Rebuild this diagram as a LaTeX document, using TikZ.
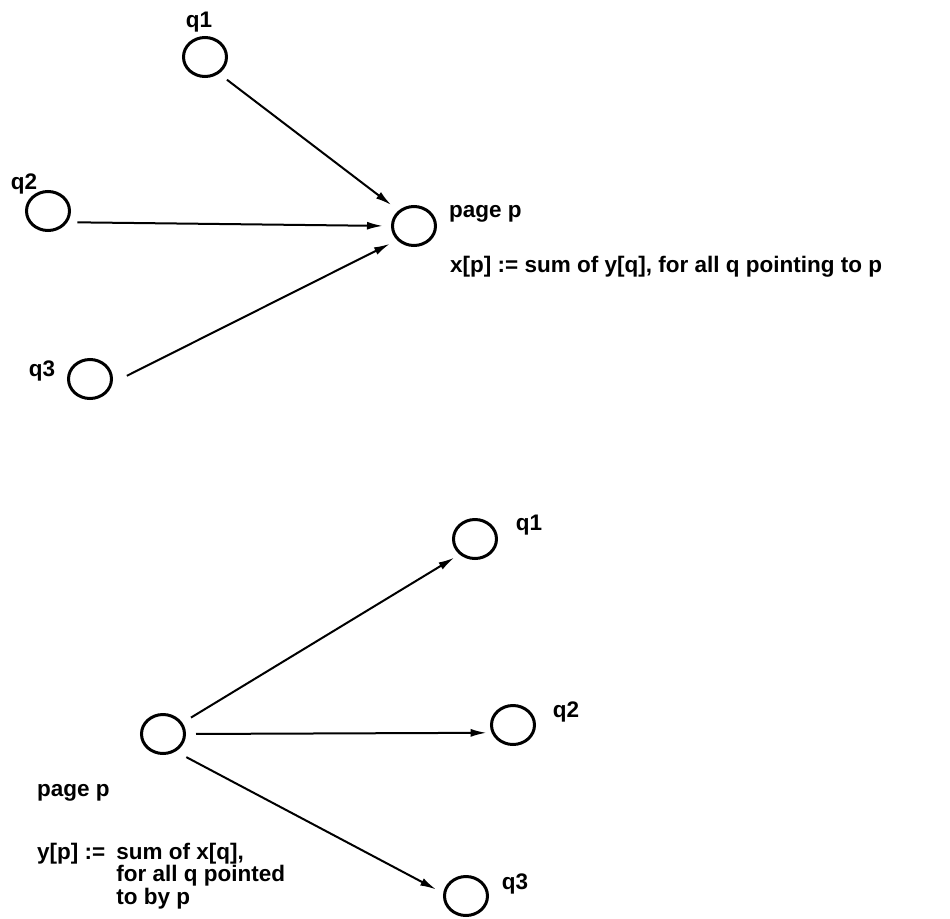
\documentclass[tikz,border=0pt]{standalone}
\usepackage{fontspec}
\setmainfont{Liberation Sans}
\usetikzlibrary{shapes.geometric,arrows.meta}
\begin{document}
\begin{tikzpicture}[x=1pt,y=-1pt,
  pg/.style={ellipse,draw,line width=3pt,minimum width=43pt,minimum height=39pt,inner sep=0pt},
  lbl/.style={inner sep=0pt,font=\fontsize{22.5}{21.5}\selectfont\bfseries},
  arr/.style={line width=2pt,-{Latex[length=16pt,width=8pt]}}
]
\useasboundingbox (0,0) rectangle (950,918);
% top graph
\node[pg] (q1t) at (205,57) {};
\node[pg] (q2t) at (48,211) {};
\node[pg] (q3t) at (90,379) {};
\node[pg] (pt) at (414,226) {};
\node[lbl] (l1t) at (199,22) {q1};
\node[lbl] (l2t) at (24,184) {q2};
\node[lbl] (l3t) at (42,371) {q3};
\node[lbl,anchor=west] (ppt) at (449,214) {page p};
\node[lbl,anchor=west] (xf) at (450,267) {x[p] := sum of y[q], for all q pointing to p};
\draw[arr, shorten <=10pt, shorten >=9pt] (q1t.-50) -- (pt.135);
\draw[arr, shorten <=10pt, shorten >=8pt] (q2t.-30) -- (pt.180);
\draw[arr, shorten <=16pt, shorten >=8pt] (q3t.-10) -- (pt.-140);
% bottom graph
\node[pg] (pb) at (163,734) {};
\node[pg] (q1b) at (475,539) {};
\node[pg] (q2b) at (513,725) {};
\node[pg] (q3b) at (466,896) {};
\node[lbl] (l1b) at (529,525) {q1};
\node[lbl] (l2b) at (566,712) {q2};
\node[lbl] (l3b) at (515,884) {q3};
\node[lbl,anchor=west] (ppb) at (37,793) {page p};
\node[lbl,anchor=base west] (yf) at (37,859) {\begin{tabular}[t]{@{}l@{\hspace{11pt}}l@{}}y[p] := & sum of x[q],\\ & for all q pointed\\ & to by p\end{tabular}};
\draw[arr, shorten <=10pt, shorten >=6pt] (pb.30) -- (q1b.-135);
\draw[arr, shorten <=10pt, shorten >=5pt] (pb.0) -- (q2b.-160);
\draw[arr, shorten <=12pt, shorten >=8pt] (pb.-54) -- (q3b.173);
\end{tikzpicture}
\end{document}
